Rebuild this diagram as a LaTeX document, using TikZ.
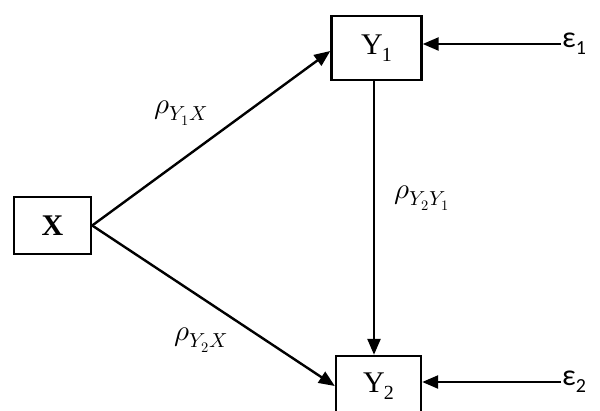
\documentclass[tikz,border=0pt]{standalone}
\usepackage{fontspec}
\usepackage{unicode-math}
\setmainfont{Liberation Serif}
\setmathfont{Latin Modern Math}
\newfontfamily\epsfont{Carlito}
\usetikzlibrary{arrows.meta}
\tikzset{
  box/.style={draw, line width=2.4pt, fill=white, inner sep=0pt, font=\fontsize{30}{34}\selectfont},
  link/.style={line width=2.4pt, -{Triangle[length=16pt,width=13pt]}},
  coef/.style={inner sep=0pt, font=\fontsize{29}{33}\selectfont},
  errl/.style={inner sep=1pt, anchor=west, font=\epsfont\fontsize{30}{34}\selectfont}
}
\newcommand{\sub}[1]{\raisebox{-0.22em}{\fontsize{20}{22}\selectfont #1}}
\begin{document}
\begin{tikzpicture}[x=1pt,y=-1pt]
\clip (0,0) rectangle (600,410);
\fill[white] (0,0) rectangle (600,410);
\node[box, minimum width=90pt, minimum height=64pt] (Y1) at (376.5,48) {Y\kern-1pt\sub{1}};
\node[box, minimum width=77pt, minimum height=57pt] (X) at (52.5,225.5) {\textbf{X}};
\node[box, minimum width=85pt, minimum height=60pt] (Y2) at (378.5,386) {Y\kern-1pt\sub{2}};
\node[errl] (e1) at (561,44) {ε\sub{1}};
\node[errl] (e2) at (561,382) {ε\sub{2}};
\draw[link] (X.east) -- ([yshift=-3pt]Y1.west);
\draw[link] (X.east) -- (Y2.west);
\draw[link] ([xshift=-2.5pt]Y1.south) -- ([xshift=-4.5pt]Y2.north);
\draw[link] (e1.west) -- (e1.west -| Y1.east);
\draw[link] (e2.west) -- (e2.west -| Y2.east);
\node[coef] (l1) at (181,113) {$\rho_{Y_1X}$};
\node[coef] (l2) at (422,198) {$\rho_{Y_2Y_1}$};
\node[coef] (l3) at (201,340) {$\rho_{Y_2X}$};
\end{tikzpicture}
\end{document}
